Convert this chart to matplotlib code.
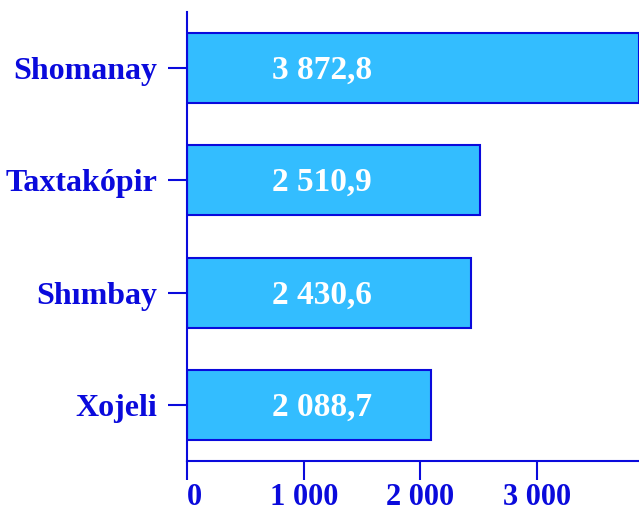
#! /usr/bin/env python3

import matplotlib
matplotlib.use("Agg")
import matplotlib.pyplot as plt

# data
districts = ['Xojeli', 'Shımbay', 'Taxtakópir', 'Shomanay']
values = [2088.7, 2430.6, 2510.9, 3872.8]
value_labels = ['2 088,7', '2 430,6', '2 510,9', '3 872,8']
xticks = [0, 1000, 2000, 3000]
xtick_labels = ['0', '1 000', '2 000', '3 000']

blue = '#0A0ADC'
fill = '#33BDFF'

def mkplot():
    plt.rcParams['font.family'] = ['Liberation Serif', 'DejaVu Serif']
    plt.rcParams['font.weight'] = 'bold'

    fig = plt.figure(figsize=(6.39, 5.09), dpi=100)
    ax = fig.add_axes([0.2926, 0.0943, 0.7074, 0.8821])

    ypos = range(len(districts))
    ax.barh(ypos, values, height=0.625, color=fill, edgecolor=blue, linewidth=1.5)

    for y, lab in zip(ypos, value_labels):
        ax.text(1158, y - 0.02, lab, ha='center', va='center', color='white',
                fontsize=24, fontweight='bold')

    ax.set_xlim(0, 3872.8)
    ax.set_ylim(-0.5, 3.5)
    ax.set_yticks(list(ypos))
    ax.set_yticklabels(districts, fontsize=23, fontweight='bold', color=blue)
    ax.set_xticks(xticks)
    ax.set_xticklabels(xtick_labels, fontsize=22, fontweight='bold', color=blue)
    ax.get_xticklabels()[0].set_horizontalalignment('left')

    ax.tick_params(axis='both', direction='out', length=13.5, width=1.5,
                   color=blue)
    ax.tick_params(axis='y', pad=8)
    ax.tick_params(axis='x', pad=2)
    for side in ['top', 'right']:
        ax.spines[side].set_visible(False)
    for side in ['left', 'bottom']:
        ax.spines[side].set_color(blue)
        ax.spines[side].set_linewidth(1.5)

    fig.savefig('out.png', dpi=100)

if __name__ == "__main__":
    mkplot()
